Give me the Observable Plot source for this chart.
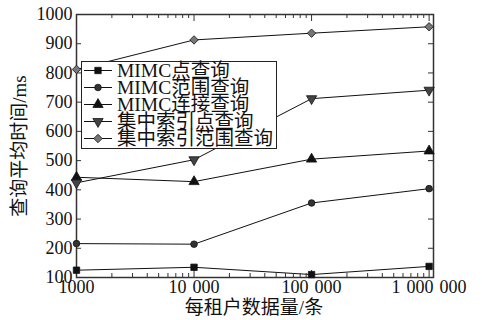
<!DOCTYPE html>
<html>
<head>
<meta charset="utf-8">
<script src="https://cdn.jsdelivr.net/npm/d3@7"></script>
<script src="https://cdn.jsdelivr.net/npm/@observablehq/plot@0.6"></script>
<style>
  html, body { margin: 0; padding: 0; background: #fff; }
  #wrap { position: relative; width: 482px; height: 320px; font-family: 'Liberation Serif', 'Noto Sans CJK SC', serif; color: #111; }
  #legend { position: absolute; left: 81px; top: 61px; width: 196px; height: 88px; border: 1px solid #222; background: #fff; box-sizing: border-box; }
  .row { display: flex; align-items: center; height: 17px; line-height: 17px; font-size: 19.5px; white-space: nowrap; }
  .row svg { flex: none; margin-left: 2px; margin-right: 5px; }
  .title { position: absolute; font-size: 19px; line-height: 20px; white-space: nowrap; }
  #xtitle { left: 254px; top: 298px; transform: translateX(-50%); }
  #ytitle { left: 20px; top: 146px; transform: translate(-50%, -50%) rotate(-90deg); }
</style>
</head>
<body>
<div id="wrap"></div>
<script>
// ---- data ----
const sizes = [1000, 10000, 100000, 1000000];
const seriesNames = ["MIMC点查询", "MIMC范围查询", "MIMC连接查询", "集中索引点查询", "集中索引范围查询"];
const mimcPoint = [125, 135, 110, 138];
const mimcRange = [216, 214, 355, 404];
const mimcJoin = [443, 428, 505, 533];
const centralPoint = [424, 503, 712, 741];
const centralRange = [812, 913, 936, 958];
const xTickValues = [1000, 10000, 100000, 1000000];
const xTickLabels = ["1000", "10\u2004000", "100\u2004000", "1\u2004000\u2004000"];
const yTickValues = [100, 200, 300, 400, 500, 600, 700, 800, 900, 1000];
const xTitle = "每租户数据量/条";
const yTitle = "查询平均时间/ms";

// ---- styles ----
const sqrt3 = Math.sqrt(3);
const triangleDown = {
  draw(context, size) {
    const y = -Math.sqrt(size / (sqrt3 * 3));
    context.moveTo(0, -y * 2);
    context.lineTo(-sqrt3 * y, y);
    context.lineTo(sqrt3 * y, y);
    context.closePath();
  }
};
const styles = [
  {symbol: "square", fill: "#111", r: 3.6},
  {symbol: "circle", fill: "#333", r: 3.3},
  {symbol: "triangle", fill: "#111", r: 3.8},
  {symbol: triangleDown, fill: "#444", r: 3.8},
  {symbol: "diamond2", fill: "#777", r: 3.8}
];
const allValues = [mimcPoint, mimcRange, mimcJoin, centralPoint, centralRange];
const rows = [];
allValues.forEach((vals, i) => sizes.forEach((s, j) => rows.push({series: seriesNames[i], idx: i, x: s, y: vals[j]})));

// ---- layout ----
const W = 482, H = 320;
const mL = 76, mR = 49, mT = 14, mB = 43;
const fw = W - mL - mR, fh = H - mT - mB;

const minorX = [];
for (const base of [1000, 10000, 100000]) for (let k = 2; k <= 9; k++) minorX.push(base * k);

const fontFam = "'Liberation Serif', 'Noto Sans CJK SC', serif";

const plot = Plot.plot({
  width: W, height: H,
  marginLeft: mL, marginRight: mR, marginTop: mT, marginBottom: mB,
  x: {type: "log", domain: [1000, 1090000]},
  y: {domain: [100, 1000]},
  style: {fontFamily: fontFam, fontSize: "18px", color: "#111", background: "#fff"},
  marks: [
    ...seriesNames.map((name, i) => Plot.line(rows.filter(d => d.idx === i), {x: "x", y: "y", stroke: "#111", strokeWidth: 1})),
    Plot.tickX(xTickValues, {x: d => d, insetTop: fh - 7, stroke: "#333", strokeWidth: 1}),
    Plot.tickX(xTickValues, {x: d => d, insetBottom: fh - 7, stroke: "#333", strokeWidth: 1}),
    Plot.tickX(minorX, {x: d => d, insetTop: fh - 4, stroke: "#333", strokeWidth: 1}),
    Plot.tickX(minorX, {x: d => d, insetBottom: fh - 4, stroke: "#333", strokeWidth: 1}),
    Plot.tickY(yTickValues, {y: d => d, insetRight: fw - 5, stroke: "#333", strokeWidth: 1}),
    Plot.tickY(yTickValues, {y: d => d, insetLeft: fw - 5, stroke: "#333", strokeWidth: 1}),
    Plot.frame({stroke: "#333", strokeWidth: 1.5}),
    ...seriesNames.map((name, i) => Plot.dot(rows.filter(d => d.idx === i), {
      x: "x", y: "y", symbol: styles[i].symbol, r: styles[i].r, fill: styles[i].fill, stroke: "#111", strokeWidth: 0.8
    })),
    Plot.axisX({ticks: xTickValues, tickFormat: d => xTickLabels[xTickValues.indexOf(d)], tickSize: 0, tickPadding: 3, fontSize: 18, label: null}),
    Plot.axisY({ticks: yTickValues, tickFormat: d => String(d), tickSize: 0, tickPadding: 4, fontSize: 18, label: null})
  ]
});

const wrap = document.getElementById("wrap");
wrap.appendChild(plot);

// ---- axis titles ----
const xt = document.createElement("div");
xt.className = "title"; xt.id = "xtitle"; xt.textContent = xTitle;
wrap.appendChild(xt);
const yt = document.createElement("div");
yt.className = "title"; yt.id = "ytitle"; yt.textContent = yTitle;
wrap.appendChild(yt);

// ---- legend ----
const legend = document.createElement("div");
legend.id = "legend";
const d3Types = [d3.symbolSquare, d3.symbolCircle, d3.symbolTriangle, triangleDown, d3.symbolDiamond2];
seriesNames.forEach((name, i) => {
  const row = document.createElement("div");
  row.className = "row";
  const r = styles[i].r;
  const size = Math.PI * r * r;
  const path = d3.symbol(d3Types[i], size)();
  row.innerHTML = `<svg width="28" height="17" viewBox="0 0 28 17"><line x1="0" x2="28" y1="8.5" y2="8.5" stroke="#111" stroke-width="1"/><path d="${path}" transform="translate(14,8.5)" fill="${styles[i].fill}" stroke="#111" stroke-width="0.8"/></svg><span>${name}</span>`;
  legend.appendChild(row);
});
wrap.appendChild(legend);
</script>
</body>
</html>
